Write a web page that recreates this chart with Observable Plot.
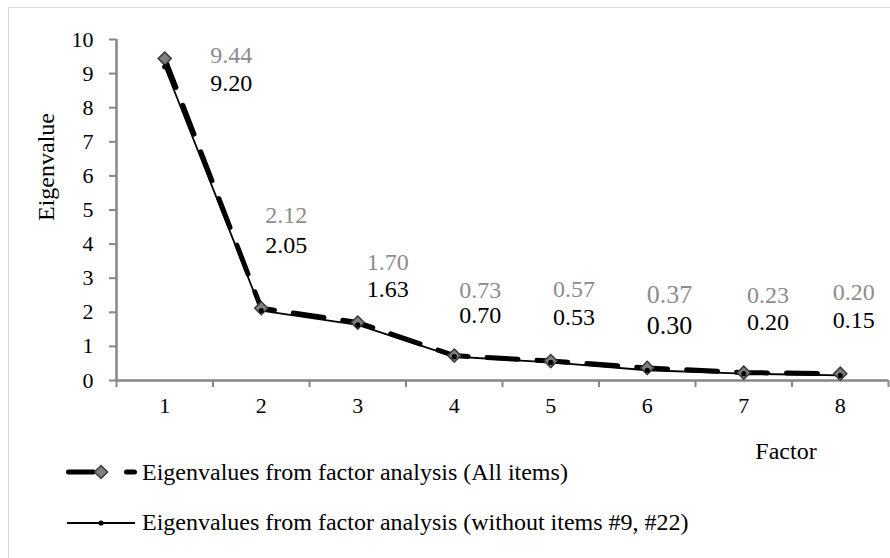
<!DOCTYPE html>
<html>
<head>
<meta charset="utf-8">
<script src="https://cdn.jsdelivr.net/npm/d3@7"></script>
<script src="https://cdn.jsdelivr.net/npm/@observablehq/plot@0.6"></script>
<style>
  html, body { margin: 0; padding: 0; background: #fff; }
  #wrap { position: relative; width: 890px; height: 558px; overflow: hidden; font-family: "Liberation Serif", "Times New Roman", serif; }
  #border { position: absolute; left: 8px; top: 7px; width: 920px; height: 620px; border: 1px solid #d9d9d9; box-sizing: border-box; }
  #chart, #overlay { position: absolute; left: 0; top: 0; }
</style>
</head>
<body>
<div id="wrap">
  <div id="border"></div>
  <div id="chart"></div>
  <svg id="overlay" width="890" height="558"></svg>
</div>
<script>
// ---- data ----
const factors = [1, 2, 3, 4, 5, 6, 7, 8];
const allItems = [9.44, 2.12, 1.70, 0.73, 0.57, 0.37, 0.23, 0.20];
const withoutItems = [9.20, 2.05, 1.63, 0.70, 0.53, 0.30, 0.20, 0.15];
const seriesNames = [
  "Eigenvalues from factor analysis (All items)",
  "Eigenvalues from factor analysis (without items #9, #22)"
];
const yTicks = [0, 1, 2, 3, 4, 5, 6, 7, 8, 9, 10];

// label placement (in data units)
const labelXAll = [1.69, 2.26, 3.31, 4.27, 5.24, 6.23, 7.25, 8.14];
const labelYAll = [9.53, 4.84, 3.46, 2.64, 2.67, 2.52, 2.49, 2.58];
const labelXWo  = [1.69, 2.26, 3.31, 4.27, 5.24, 6.23, 7.25, 8.14];
const labelYWo  = [8.71, 3.96, 2.67, 1.91, 1.85, 1.61, 1.70, 1.76];
const labelSize = [24, 24, 24, 24, 24, 26, 24, 24];

const rowsAll = factors.map((f, i) => ({factor: f, value: allItems[i], lx: labelXAll[i], ly: labelYAll[i], fs: labelSize[i]}));
const rowsWo = factors.map((f, i) => ({factor: f, value: withoutItems[i], lx: labelXWo[i], ly: labelYWo[i], fs: labelSize[i]}));
const boundaries = d3.range(0, factors.length + 1).map(i => i + 0.5);

const axisGray = "#868686";
const FONT = "Liberation Serif, Times New Roman, serif";

const plot = Plot.plot({
  width: 890,
  height: 558,
  marginLeft: 116,
  marginRight: 2,
  marginTop: 39,
  marginBottom: 178,
  style: {fontFamily: FONT, background: "transparent", overflow: "visible"},
  x: {type: "linear", domain: [0.5, 8.5]},
  y: {domain: [0, 10]},
  marks: [
    Plot.axisY({ticks: yTicks, tickSize: 7, tickPadding: 16, fontSize: 22, stroke: axisGray, strokeWidth: 2, fill: "black", label: null, tickFormat: d => String(d)}),
    Plot.axisX({ticks: boundaries, tickSize: 7, tickFormat: () => "", stroke: axisGray, strokeWidth: 2, label: null}),
    Plot.axisX({ticks: factors, tickSize: 0, tickPadding: 17, fontSize: 22, fill: "black", label: null, tickFormat: d => String(d)}),
    Plot.ruleX([0.5], {stroke: axisGray, strokeWidth: 2.5}),
    Plot.ruleY([0], {stroke: axisGray, strokeWidth: 2.5}),
    Plot.line(rowsAll, {x: "factor", y: "value", stroke: "black", strokeWidth: 5, strokeDasharray: "31,19", strokeLinecap: "round"}),
    Plot.line(rowsWo, {x: "factor", y: "value", stroke: "black", strokeWidth: 1.8}),
    Plot.dot(rowsAll, {x: "factor", y: "value", symbol: "diamond2", r: 5.9, fill: "#7f7f7f", stroke: "#3a3a3a", strokeWidth: 1.5}),
    Plot.dot(rowsWo, {x: "factor", y: "value", r: 2.6, fill: "black"}),
    Plot.text(rowsAll, {x: "lx", y: "ly", text: d => d.value.toFixed(2), fill: "#8c8c8c", fontSize: "fs", textAnchor: "middle", lineAnchor: "middle"}),
    Plot.text(rowsWo, {x: "lx", y: "ly", text: d => d.value.toFixed(2), fill: "black", fontSize: "fs", textAnchor: "middle", lineAnchor: "middle"})
  ]
});
document.getElementById("chart").appendChild(plot);

// ---- axis titles and legend ----
const svg = d3.select("#overlay").style("font-family", FONT);
svg.append("text").attr("x", 786).attr("y", 459).attr("text-anchor", "middle")
  .attr("font-size", 24).attr("fill", "black").text("Factor");
svg.append("text").attr("transform", "translate(54,167) rotate(-90)").attr("text-anchor", "middle")
  .attr("font-size", 24).attr("fill", "black").text("Eigenvalue");

// legend entry 1
const g1 = svg.append("g");
g1.append("line").attr("x1", 68.5).attr("x2", 134.5).attr("y1", 472).attr("y2", 472)
  .attr("stroke", "black").attr("stroke-width", 5).attr("stroke-linecap", "round").attr("stroke-dasharray", "25,33");
g1.append("path").attr("d", d3.symbol(d3.symbolDiamond2, Math.PI * 5.9 * 5.9)()).attr("transform", "translate(101,472)")
  .attr("fill", "#7f7f7f").attr("stroke", "#3a3a3a").attr("stroke-width", 1.5);
g1.append("text").attr("x", 142).attr("y", 480).attr("font-size", 24).attr("fill", "black").text(seriesNames[0]);

// legend entry 2
const g2 = svg.append("g");
g2.append("line").attr("x1", 67).attr("x2", 135).attr("y1", 523).attr("y2", 523)
  .attr("stroke", "black").attr("stroke-width", 1.8);
g2.append("circle").attr("cx", 101).attr("cy", 523).attr("r", 2.6).attr("fill", "black");
g2.append("text").attr("x", 142).attr("y", 530).attr("font-size", 24).attr("fill", "black").text(seriesNames[1]);
</script>
</body>
</html>
